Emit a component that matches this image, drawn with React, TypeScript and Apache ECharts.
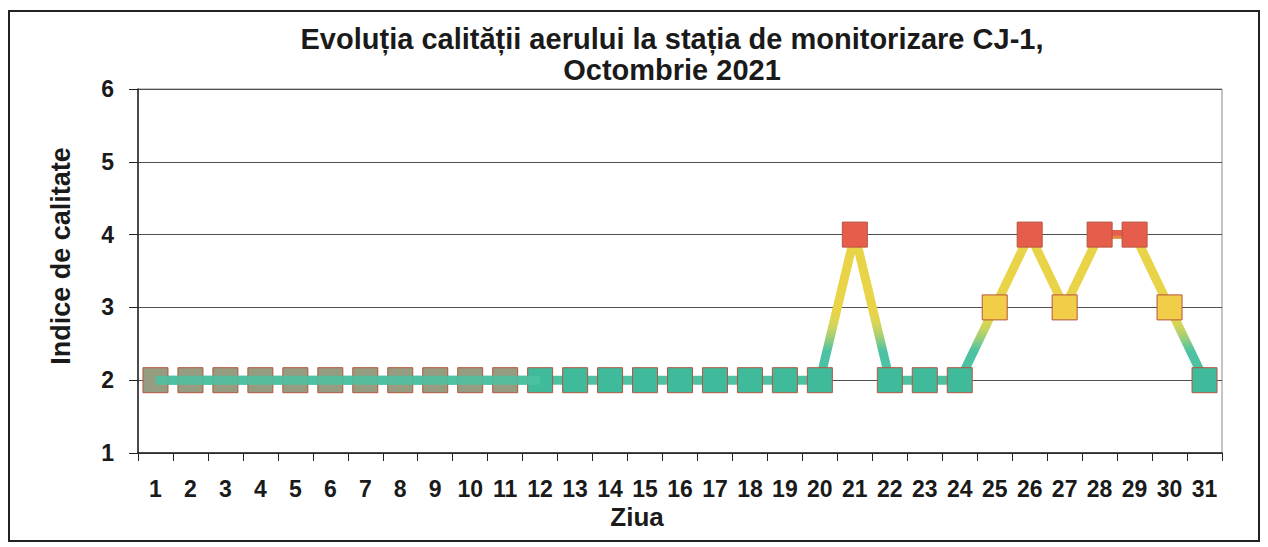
import React, { useEffect, useRef } from "react";
import * as echarts from "echarts";

const days: string[] = Array.from({ length: 31 }, (_, i) => String(i + 1));
const indexValues: number[] = [
  2, 2, 2, 2, 2, 2, 2, 2, 2, 2, 2, 2, 2, 2, 2, 2, 2, 2, 2, 2,
  4, 2, 2, 2, 3, 4, 3, 4, 4, 3, 2,
];
const yTicks = { min: 1, max: 6, interval: 1 };
const titleLines = ["Evoluția calității aerului la stația de monitorizare CJ-1,", "Octombrie 2021"];
const xName = "Ziua";
const yName = "Indice de calitate";

const TEAL = "#3fba9b";
const TEAL_LINE = "#4cc2a2";
const YELLOW = "#f2cd48";
const YELLOW_LINE = "#e9d347";
const RED = "#e75d4c";
const OLIVE = "#959c7f";
const FONT = "'Liberation Sans', Arial, sans-serif";

function markerColor(v: number, i: number): string {
  if (i < 11) return OLIVE;
  if (v >= 4) return RED;
  if (v >= 3) return YELLOW;
  return TEAL;
}

export default function App() {
  const ref = useRef<HTMLDivElement>(null);
  useEffect(() => {
    if (!ref.current) return;
    const chart = echarts.init(ref.current, undefined, { renderer: "svg" });
    const lineColors = [
      TEAL_LINE, TEAL_LINE, TEAL_LINE, TEAL_LINE, TEAL_LINE,
      "#79c98d", "#a2cf74", "#c4d462", "#dbd553", "#e5d44b",
      YELLOW_LINE, YELLOW_LINE, YELLOW_LINE, YELLOW_LINE, YELLOW_LINE,
      YELLOW_LINE, YELLOW_LINE, YELLOW_LINE, YELLOW_LINE, YELLOW_LINE,
      RED,
    ];
    chart.setOption({
      animation: false,
      backgroundColor: "#ffffff",
      grid: {
        left: 138,
        right: 1268 - 1222,
        top: 89,
        bottom: 547 - 453,
        show: true,
        borderColor: "#8a8a8a",
        borderWidth: 1,
        backgroundColor: "transparent",
      },
      graphic: [
        {
          type: "rect",
          shape: { x: 9, y: 11, width: 1250, height: 530 },
          style: { fill: "none", stroke: "#222", lineWidth: 2 },
          silent: true,
        },
        {
          type: "text",
          x: 672,
          y: 23,
          style: {
            text: titleLines.join("\n"),
            font: `bold 29px ${FONT}`,
            fill: "#1a1a1a",
            align: "center",
            verticalAlign: "top",
            lineHeight: 31,
          },
        },
        {
          type: "text",
          x: 637,
          y: 517,
          style: {
            text: xName,
            font: `bold 26px ${FONT}`,
            fill: "#1a1a1a",
            align: "center",
            verticalAlign: "middle",
          },
        },
        {
          type: "text",
          x: 61,
          y: 256,
          rotation: Math.PI / 2,
          style: {
            text: yName,
            font: `bold 27px ${FONT}`,
            fill: "#1a1a1a",
            align: "center",
            verticalAlign: "middle",
          },
        },
      ],
      xAxis: {
        type: "category",
        data: days,
        boundaryGap: true,
        axisLine: { show: true, lineStyle: { color: "#222", width: 1.5 } },
        axisTick: { show: true, alignWithLabel: false, length: 8, lineStyle: { color: "#222" } },
        axisLabel: {
          margin: 24,
          fontFamily: FONT,
          fontWeight: "bold",
          fontSize: 23,
          color: "#1a1a1a",
          interval: 0,
        },
        splitLine: { show: false },
      },
      yAxis: {
        type: "value",
        min: yTicks.min,
        max: yTicks.max,
        interval: yTicks.interval,
        axisLine: { show: true, lineStyle: { color: "#222", width: 1.5 } },
        axisTick: { show: true, length: 9, lineStyle: { color: "#222" } },
        axisLabel: {
          margin: 24,
          fontFamily: FONT,
          fontWeight: "bold",
          fontSize: 23,
          color: "#1a1a1a",
        },
        splitLine: { show: true, lineStyle: { color: "#505050", width: 1.2 } },
      },
      visualMap: {
        type: "continuous",
        show: false,
        seriesIndex: 0,
        dimension: 1,
        min: 2,
        max: 4,
        inRange: { color: lineColors },
      },
      series: [
        {
          type: "line",
          data: indexValues,
          showSymbol: false,
          symbol: "none",
          lineStyle: { width: 9 },
          z: 2,
        },
        {
          type: "scatter",
          data: indexValues.map((v, i) => ({
            value: v,
            itemStyle: { color: markerColor(v, i) },
          })),
          symbol: "rect",
          symbolSize: [25, 25],
          itemStyle: { borderColor: "#b4553f", borderWidth: 1, opacity: 1 },
          z: 3,
        },
        {
          type: "line",
          data: indexValues.map((v, i) => (i < 12 ? v : null)),
          showSymbol: false,
          symbol: "none",
          lineStyle: { width: 9, color: TEAL_LINE, opacity: 0.85 },
          z: 4,
        },
      ],
    });
    return () => chart.dispose();
  }, []);
  return (
    <div
      ref={ref}
      style={{ position: "fixed", left: 0, top: 0, width: 1268, height: 547 }}
    />
  );
}
